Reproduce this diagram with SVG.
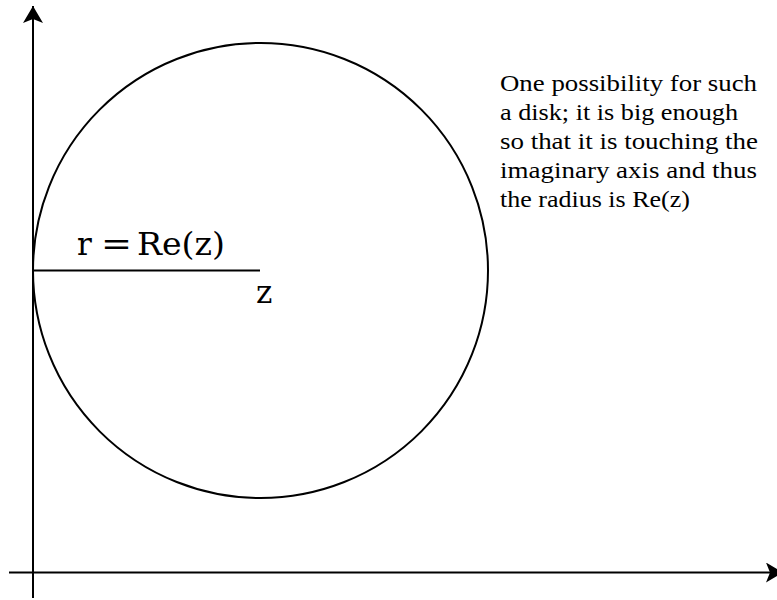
<svg xmlns="http://www.w3.org/2000/svg" width="777" height="600" viewBox="0 0 777 600">
<style>
.ln{stroke:#000;stroke-width:2;fill:none}
.t{font-family:"Liberation Serif","DejaVu Serif",serif;fill:#000}
.m{font-family:"DejaVu Serif","Liberation Serif",serif;fill:#000}
.note{font-size:24px}
.math{font-size:31px}
</style>
<defs>
<marker id="ah" viewBox="0 0 17 20" refX="17" refY="10" markerWidth="17" markerHeight="20" markerUnits="userSpaceOnUse" orient="auto">
<path d="M0,0 L17,10 L0,20 L4,10 Z" fill="#000"/>
</marker>
</defs>
<rect width="777" height="600" fill="#fff"/>
<g id="axes">
<line class="ln" x1="33" y1="598" x2="33" y2="6" marker-end="url(#ah)"/>
<line class="ln" x1="9" y1="572.5" x2="783" y2="572.5" marker-end="url(#ah)"/>
</g>
<g id="disk">
<circle class="ln" cx="260.5" cy="270.5" r="227.5"/>
<line class="ln" x1="33" y1="270.5" x2="260" y2="270.5"/>
</g>
<g id="labels">
<text class="m math" y="255"><tspan x="77">r</tspan><tspan x="101" textLength="31" lengthAdjust="spacingAndGlyphs">=</tspan><tspan x="137" textLength="88" lengthAdjust="spacingAndGlyphs">Re(z)</tspan></text>
<text class="m math" x="256" y="303">z</text>
</g>
<g id="note">
<text class="t note" x="500" y="91" textLength="257" lengthAdjust="spacingAndGlyphs">One possibility for such</text>
<text class="t note" x="500" y="120" textLength="238" lengthAdjust="spacingAndGlyphs">a disk; it is big enough</text>
<text class="t note" x="500" y="149" textLength="258" lengthAdjust="spacingAndGlyphs">so that it is touching the</text>
<text class="t note" x="500" y="178" textLength="257" lengthAdjust="spacingAndGlyphs">imaginary axis and thus</text>
<text class="t note" x="500" y="207" textLength="190" lengthAdjust="spacingAndGlyphs">the radius is Re(z)</text>
</g>
</svg>
